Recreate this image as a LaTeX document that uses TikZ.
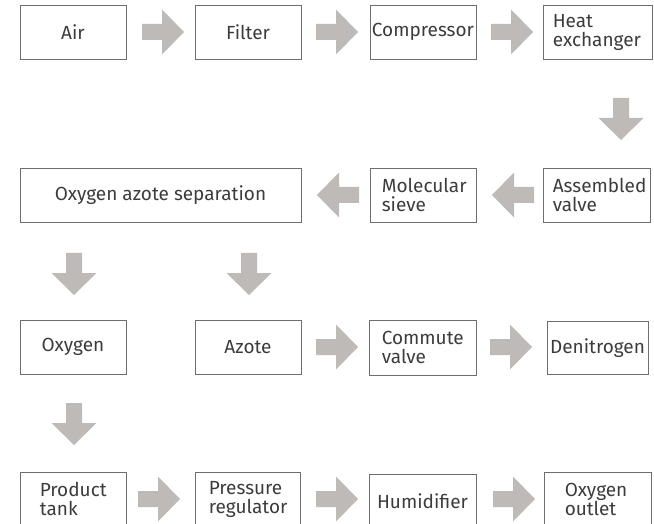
\documentclass[tikz,border=0pt]{standalone}
\usepackage{fontspec}
\setmainfont{Fira Sans}
\definecolor{arrowgray}{RGB}{190,186,183}
\definecolor{boxline}{RGB}{110,110,110}
\definecolor{txtcol}{RGB}{60,60,60}
\tikzset{
  box/.style={draw=boxline, line width=0.8pt, minimum height=54pt, inner sep=0pt,
    font=\fontsize{19}{19}\selectfont, text=txtcol},
  txt/.style={font=\fontsize{19}{19}\selectfont, text=txtcol, align=left, inner sep=0pt, anchor=west},
  barrow/.pic={\fill[arrowgray] (0,-8)--(20,-8)--(20,-22.5)--(42,0)--(20,22.5)--(20,8)--(0,8)--cycle;}
}
\begin{document}
\begin{tikzpicture}[x=1pt,y=-1pt]
\useasboundingbox (0,0) rectangle (654,524);
\clip (0,0) rectangle (654,524);
% row 1
\node[box, minimum width=106pt] (air) at (73,32) {Air};
\node[box, minimum width=106pt] (filter) at (248,32) {Filter};
\node[box, minimum width=106pt] (comp) at (423,32) {Compressor};
\node[box, minimum width=109pt] (heat) at (597.5,32) {};
\node[txt] (heatt) at ([xshift=10pt]heat.west) {Heat\\exchanger};
% row 2
\node[box, minimum width=281pt] (sep) at (160.5,195) {Oxygen azote separation};
\node[box, minimum width=106pt] (mol) at (423,195) {};
\node[txt] (molt) at ([xshift=12pt]mol.west) {Molecular\\sieve};
\node[box, minimum width=107pt] (asm) at (596.5,195) {};
\node[txt] (asmt) at ([xshift=10pt]asm.west) {Assembled\\valve};
% row 3
\node[box, minimum width=106pt] (oxy) at (73,347) {Oxygen};
\node[box, minimum width=106pt] (azote) at (248,347) {Azote};
\node[box, minimum width=107pt, minimum height=55pt] (commute) at (422.5,347.5) {};
\node[txt] (commutet) at ([xshift=13pt]commute.west) {Commute\\valve};
\node[box, minimum width=101pt, minimum height=53pt] (denit) at (597.5,348) {Denitrogen};
% row 4
\node[box, minimum width=106pt] (product) at (73,499) {};
\node[txt] (productt) at ([xshift=20pt]product.west) {Product\\tank};
\node[box, minimum width=105pt] (pressure) at (247.5,499) {};
\node[txt] (pressuret) at ([xshift=14pt]pressure.west) {Pressure\\regulator};
\node[box, minimum width=107pt] (humid) at (422.5,501) {Humidifier};
\node[box, minimum width=107pt] (outlet) at (597.5,499) {};
\node[txt] (outlett) at ([xshift=21pt]outlet.west) {Oxygen\\outlet};
% arrows
\pic at (142,32) {barrow};
\pic at (316,32) {barrow};
\pic at (491,32) {barrow};
\pic[rotate=-90] at (621,98) {barrow};
\pic[rotate=180] at (534,195) {barrow};
\pic[rotate=180] at (359,195) {barrow};
\pic[rotate=-90] at (74,253) {barrow};
\pic[rotate=-90] at (249,253) {barrow};
\pic at (316,347) {barrow};
\pic at (490,347) {barrow};
\pic[rotate=-90] at (74,403) {barrow};
\pic at (138,499) {barrow};
\pic at (316,499) {barrow};
\pic at (493,499) {barrow};
\end{tikzpicture}
\end{document}
